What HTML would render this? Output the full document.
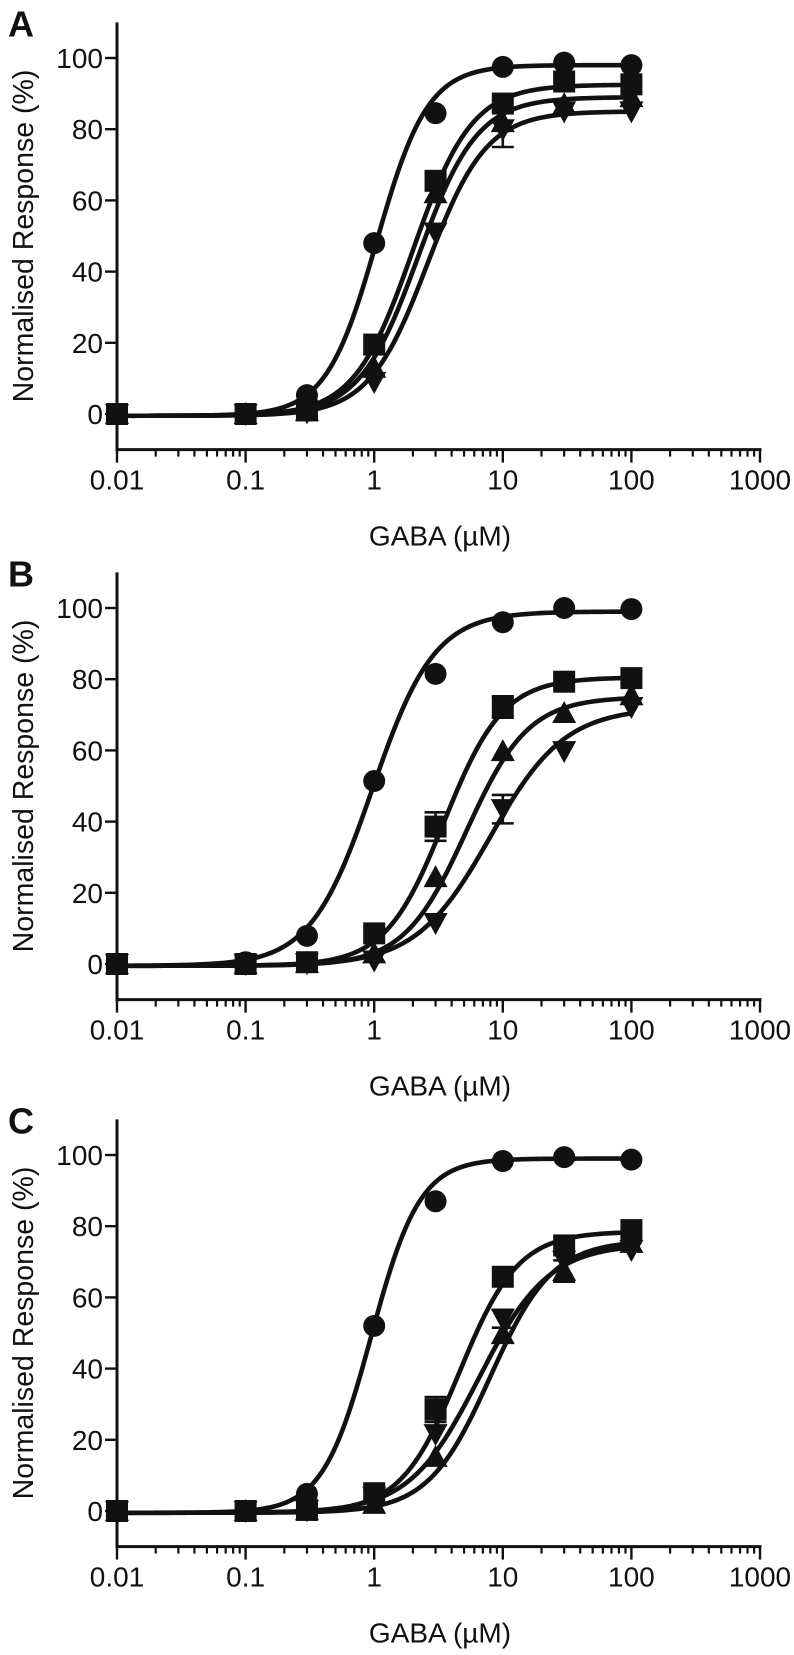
<!DOCTYPE html>
<html><head><meta charset="utf-8"><style>
html,body{margin:0;padding:0;background:#fff;}
svg{display:block;font-family:"Liberation Sans",Arial,sans-serif;}
</style></head><body>
<svg id="fig" width="794" height="1655" viewBox="0 0 794 1655" xmlns="http://www.w3.org/2000/svg"></svg>
<script>
// ---- data ----
const concentrations = [0.01, 0.1, 0.3, 1, 3, 10, 30, 100];
const panelLabels = ["A", "B", "C"];
const seriesShapes = ["circle", "square", "up", "down"];
// Panel A responses (%)
const aCircle = [0, 0, 5.3, 48, 84.5, 97.5, 98.7, 98];
const aSquare = [0, 0, 1, 19.5, 65.5, 87.2, 93.4, 92.6];
const aUp     = [0, 0, 0.8, 13, 62, 82, 87, 89];
const aDown   = [0, 0, 0.5, 9, 51, 80, 85, 85];
// Panel B
const bCircle = [0, 0.5, 7.9, 51.4, 81.5, 96, 100, 99.7];
const bSquare = [0, 0, 0.5, 8.6, 38.6, 72.2, 79.3, 80.3];
const bUp     = [0, 0, 0.3, 3, 24.4, 59.8, 70.5, 75.5];
const bDown   = [0, 0, 0.2, 1, 11.5, 43.5, 59.8, 72.2];
// Panel C
const cCircle = [0, 0, 4.8, 52, 87, 98.3, 99.4, 98.7];
const cSquare = [0, 0, 0.3, 5, 28.5, 65.8, 74.6, 78.9];
const cUp     = [0, 0, 0.2, 2, 15.2, 49.7, 67.4, 75.3];
const cDown   = [0, 0, 0.2, 4, 21.6, 54, 70.3, 73.3];
// error (SEM) values
const aErr = [[0,0,0,0,0,0,0,0],[0,0,0,0,2,0,0,0],[0,0,0,0,0,0,0,0],[0,0,0,0,0,5,0,0]];
const bErr = [[0,0,0,0,0,0,0,0],[0,0,0,0,4,3,0,0],[0,0,0,0,0,0,0,0],[0,0,0,0,0,4,0,0]];
const cErr = [[0,0,0,0,0,0,0,0],[0,0,0,0,3.5,0,0,0],[0,0,0,0,0,0,3,0],[0,0,0,0,0,2.5,0,0]];
// Hill fit parameters: top, EC50, nH
const aTop = [98, 92.5, 89, 85], aEC50 = [1.05, 2.0, 2.2, 2.6], aHill = [2.2, 1.9, 1.9, 1.9];
const bTop = [99, 80.5, 75, 72], bEC50 = [0.97, 3.5, 5.2, 8], bHill = [1.8, 1.9, 1.8, 1.5];
const cTop = [99, 78.5, 76, 75], cEC50 = [0.95, 4.6, 8, 6.5], cHill = [2.3, 1.9, 1.8, 1.6];
const xTickLabels = ["0.01", "0.1", "1", "10", "100", "1000"];
const yTickValues = [0, 20, 40, 60, 80, 100];

const panelsData = [
  {vals:[aCircle,aSquare,aUp,aDown], err:aErr, top:aTop, ec:aEC50, n:aHill},
  {vals:[bCircle,bSquare,bUp,bDown], err:bErr, top:bTop, ec:bEC50, n:bHill},
  {vals:[cCircle,cSquare,cUp,cDown], err:cErr, top:cTop, ec:cEC50, n:cHill}
];
const zeroY = [414, 964, 1511];

const NS = "http://www.w3.org/2000/svg";
const svg = document.getElementById("fig");
function mk(tag, attrs, parent){
  const e = document.createElementNS(NS, tag);
  for (const k in attrs) e.setAttribute(k, attrs[k]);
  (parent||svg).appendChild(e);
  return e;
}
const X0 = 117, DEC = 128.6, UNIT = 3.56;
function xs(v){ return X0 + (Math.log10(v) + 2) * DEC; }

panelsData.forEach((pd, pi) => {
  const z = zeroY[pi];
  const ys = v => z - v * UNIT;
  const g = mk("g", {});
  
  

  const lab = mk("text", {x: 8, y: ys(110) + 14, "font-size": 36, "font-weight": "bold", fill: "#111"}, g);
  lab.textContent = panelLabels[pi];
  
  

  const yAxis = mk("line", {x1: X0, x2: X0, y1: ys(110), y2: ys(-10), stroke: "#111", "stroke-width": 3}, g);
  
  
  const xEnd = xs(1000);
  const xAxis = mk("line", {x1: X0 - 1.5, x2: xEnd + 1.5, y1: ys(-10), y2: ys(-10), stroke: "#111", "stroke-width": 3}, g);
  
  

  yTickValues.forEach(v => {
    const t = mk("line", {x1: X0 - 12, x2: X0, y1: ys(v), y2: ys(v), stroke: "#111", "stroke-width": 2.4}, g);
    
    
    const tl = mk("text", {x: X0 - 14, y: ys(v) + 10, "font-size": 28, "text-anchor": "end", fill: "#111"}, g);
    tl.textContent = String(v);
    
    
  });
  const axY = ys(-10);
  xTickLabels.forEach((s, i) => {
    const v = parseFloat(s);
    const x = xs(v);
    const t = mk("line", {x1: x, x2: x, y1: axY, y2: axY + 13, stroke: "#111", "stroke-width": 2.4}, g);
    
    
    const tl = mk("text", {x: x, y: axY + 40, "font-size": 28, "text-anchor": "middle", fill: "#111"}, g);
    tl.textContent = s;
    
    
    if (i < xTickLabels.length - 1) {
      for (let m = 2; m <= 9; m++) {
        const mx = xs(v * m);
        const mt = mk("line", {x1: mx, x2: mx, y1: axY, y2: axY + 7, stroke: "#111", "stroke-width": 2.2}, g);
        
        
      }
    }
  });
  const xt = mk("text", {x: 440, y: axY + 96, "font-size": 28, "text-anchor": "middle", fill: "#111"}, g);
  xt.textContent = "GABA (\u00b5M)";
  
  
  const yt = mk("text", {x: 0, y: 0, "font-size": 28.5, "text-anchor": "middle", fill: "#111", transform: "translate(33," + ys(50) + ") rotate(-90)"}, g);
  yt.textContent = "Normalised Response (%)";
  
  

  pd.vals.forEach((vals, si) => {
    const top = pd.top[si], ec = pd.ec[si], n = pd.n[si];
    let d = "";
    for (let k = 0; k <= 200; k++) {
      const lx = -2 + k * 4 / 200;
      const c = Math.pow(10, lx);
      const r = -0.5 + (top + 0.5) / (1 + Math.pow(ec / c, n));
      d += (k ? "L" : "M") + xs(c).toFixed(2) + "," + ys(r).toFixed(2);
    }
    const p = mk("path", {d: d, fill: "none", stroke: "#111", "stroke-width": 4.6}, g);
    
    
  });
  pd.vals.forEach((vals, si) => {
    vals.forEach((v, k) => {
      const cx = xs(concentrations[k]), cy = ys(v);
      const e = pd.err[si][k];
      if (e > 0) {
        const eb = mk("path", {d: "M" + cx + "," + ys(v + e) + "V" + ys(v - e) + "M" + (cx - 11) + "," + ys(v + e) + "h22M" + (cx - 11) + "," + ys(v - e) + "h22", stroke: "#111", "stroke-width": 2.6, fill: "none"}, g);
        
        
      }
      let m;
      const sh = seriesShapes[si];
      if (sh === "circle") m = mk("circle", {cx: cx, cy: cy, r: 11, fill: "#111"}, g);
      else if (sh === "square") m = mk("rect", {x: cx - 11, y: cy - 11, width: 22, height: 22, fill: "#111"}, g);
      else if (sh === "up") m = mk("polygon", {points: (cx) + "," + (cy - 12) + " " + (cx + 12) + "," + (cy + 10) + " " + (cx - 12) + "," + (cy + 10), fill: "#111"}, g);
      else m = mk("polygon", {points: (cx) + "," + (cy + 12) + " " + (cx + 12) + "," + (cy - 10) + " " + (cx - 12) + "," + (cy - 10), fill: "#111"}, g);
      
      
    });
  });
});
</script>
</body></html>
